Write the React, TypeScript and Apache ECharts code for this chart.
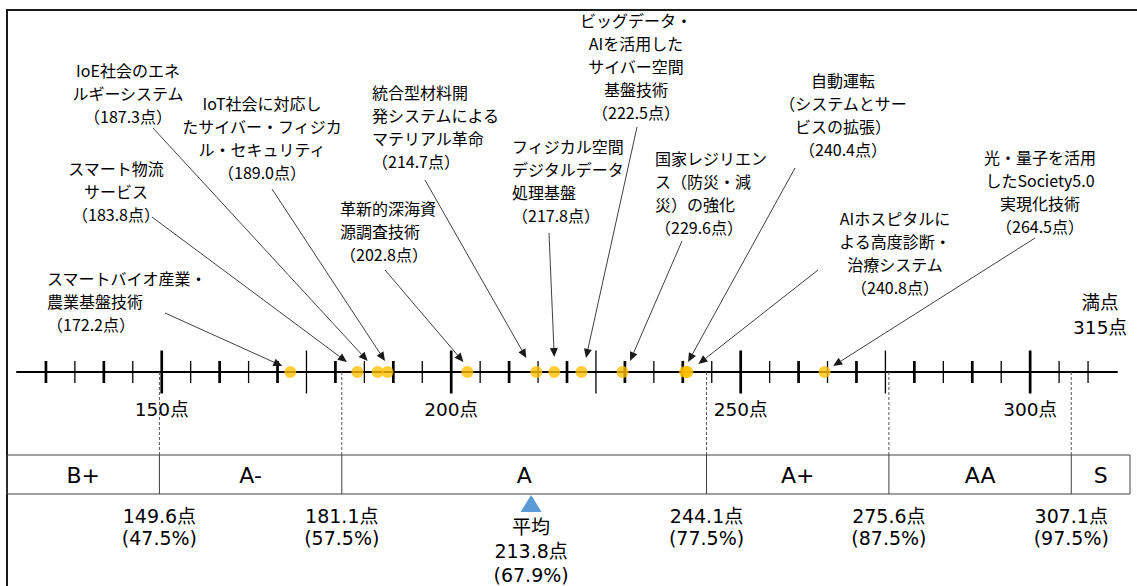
import React, { useEffect, useRef } from "react";
import * as echarts from "echarts";

// ---- data ----
const techNames = [
  "スマートバイオ産業・\n農業基盤技術",
  "スマート物流\nサービス",
  "IoE社会のエネ\nルギーシステム",
  "IoT社会に対応し\nたサイバー・フィジカ\nル・セキュリティ",
  "革新的深海資\n源調査技術",
  "統合型材料開\n発システムによる\nマテリアル革命",
  "フィジカル空間\nデジタルデータ\n処理基盤",
  "ビッグデータ・\nAIを活用した\nサイバー空間\n基盤技術",
  "国家レジリエン\nス（防災・減\n災）の強化",
  "自動運転\n（システムとサー\nビスの拡張）",
  "AIホスピタルに\nよる高度診断・\n治療システム",
  "光・量子を活用\nしたSociety5.0\n実現化技術",
];
const techScores = [172.2, 183.8, 187.3, 189.0, 202.8, 214.7, 217.8, 222.5, 229.6, 240.4, 240.8, 264.5];

const gradeNames = ["B+", "A-", "A", "A+", "AA", "S"];
const gradeBounds = [149.6, 181.1, 244.1, 275.6, 307.1];
const gradePercents = ["47.5%", "57.5%", "77.5%", "87.5%", "97.5%"];
const meanScore = 213.8;
const meanPercent = "67.9%";
const fullScore = 315;
const axisMin = 125;
const axisLabelValues = [150, 200, 250, 300];

const thinTicks = [135, 145, 155, 165, 185, 195, 205, 215, 235, 245, 255, 265, 285, 295, 305, 310];
const thickTicks = [130, 140, 160, 170, 180, 190, 210, 220, 230, 240, 260, 270, 280, 290];
const longThinTicks = [175, 225, 275];
const longThickTicks = [150, 200, 250, 300];

// ---- layout (pixels) ----
const FONT = "'DejaVu Sans', 'Noto Sans CJK JP', sans-serif";
const FONT_JP = "'Noto Sans CJK JP', 'DejaVu Sans', sans-serif";
const AXIS_Y = 372;
const FRAME_LEFT = 7;
const TABLE_TOP = 455;
const TABLE_BOTTOM = 494;
const TABLE_RIGHT = 1130;
const LABEL_LH = 23;

const labelLayout = [
  { x: 47, y: 278, align: "left", from: [165, 313], tip: [-8, -6] },
  { x: 116, y: 168, align: "center", from: [152, 217], tip: [-10.5, -10] },
  { x: 128, y: 70, align: "center", from: [153, 128], tip: [-10, -11] },
  { x: 262, y: 103, align: "center", from: [272, 189], tip: [-2.5, -11] },
  { x: 340, y: 208, align: "left", from: [385, 270], tip: [-4, -10] },
  { x: 372, y: 92, align: "left", from: [425, 180], tip: [-10, -14] },
  { x: 512, y: 146, align: "left", from: [549, 233], tip: [0, -15] },
  { x: 636, y: 20, align: "center", from: [637, 127], tip: [4.5, -14] },
  { x: 655, y: 158, align: "left", from: [682, 241], tip: [7.5, -11] },
  { x: 843, y: 80, align: "center", from: [795, 168], tip: [3, -10] },
  { x: 895, y: 218, align: "center", from: [818, 270], tip: [11, -8] },
  { x: 1040, y: 157, align: "center", from: [1035, 238], tip: [8.5, -6] },
];

const tickStyles = [
  { half: 11, w: 1.3 },
  { half: 11, w: 2.7 },
  { half: 21.5, w: 1.3 },
  { half: 21.5, w: 2.7 },
];

function textEl(x: number, y: number, text: string, size: number, lh: number, align: string, family = FONT) {
  return {
    type: "text",
    x,
    y,
    z: 10,
    style: {
      text,
      fill: "#000",
      fontSize: size,
      fontFamily: family,
      lineHeight: lh,
      align,
      textAlign: align,
      verticalAlign: "top",
      textVerticalAlign: "top",
    },
  };
}

export default function App() {
  const ref = useRef<HTMLDivElement>(null);

  useEffect(() => {
    const chart = echarts.init(ref.current!, null, { renderer: "svg" });

    const tickData = [
      ...thinTicks.map((v) => [v, 0]),
      ...thickTicks.map((v) => [v, 1]),
      ...longThinTicks.map((v) => [v, 2]),
      ...longThickTicks.map((v) => [v, 3]),
    ];

    chart.setOption({
      animation: false,
      backgroundColor: "#fff",
      grid: { left: 17, right: 20, top: 300, bottom: 586 - AXIS_Y },
      xAxis: {
        type: "value",
        min: axisMin,
        max: fullScore,
        interval: 25,
        axisLine: { show: true, lineStyle: { color: "#000", width: 2 } },
        axisTick: { show: false },
        splitLine: { show: false },
        axisLabel: {
          show: true,
          margin: 28,
          fontSize: 18.5,
          fontFamily: FONT,
          color: "#000",
          showMinLabel: true,
          showMaxLabel: true,
          formatter: (v: number) => (axisLabelValues.includes(v) ? `${v}点` : ""),
        },
      },
      yAxis: { type: "value", min: 0, max: 1, show: false },
      series: [
        {
          type: "custom",
          clip: false,
          z: 3,
          data: tickData,
          renderItem: (params: any, api: any) => {
            const p = api.coord([api.value(0), 0]);
            const s = tickStyles[api.value(1)];
            return {
              type: "line",
              shape: { x1: p[0], y1: p[1] - s.half, x2: p[0], y2: p[1] + s.half },
              style: { stroke: "#000", lineWidth: s.w },
            };
          },
        },
        {
          type: "scatter",
          clip: false,
          z: 4,
          symbolSize: 12,
          itemStyle: { color: "#FFC000", opacity: 0.78 },
          data: techScores.map((v) => [v, 0]),
        },
      ],
    });

    const px = (v: number) => chart.convertToPixel({ gridIndex: 0 }, [v, 0]) as number[];

    const g: any[] = [];
    // outer frame
    g.push({
      type: "rect",
      shape: { x: FRAME_LEFT, y: 10, width: 1200, height: 700 },
      style: { fill: "none", stroke: "#1a1a1a", lineWidth: 2 },
      z: 1,
    });
    // table
    g.push({
      type: "rect",
      shape: { x: FRAME_LEFT, y: TABLE_TOP, width: TABLE_RIGHT - FRAME_LEFT, height: TABLE_BOTTOM - TABLE_TOP },
      style: { fill: "none", stroke: "#404040", lineWidth: 1 },
      z: 2,
    });
    const cellEdges = [FRAME_LEFT, ...gradeBounds.map((b) => px(b)[0]), TABLE_RIGHT];
    gradeBounds.forEach((b, i) => {
      const x = px(b)[0];
      g.push({
        type: "line",
        shape: { x1: x, y1: TABLE_TOP, x2: x, y2: TABLE_BOTTOM },
        style: { stroke: "#404040", lineWidth: 1 },
        z: 2,
      });
      g.push({
        type: "line",
        shape: { x1: x, y1: AXIS_Y, x2: x, y2: TABLE_TOP },
        style: { stroke: "#555", lineWidth: 1, lineDash: [3, 2] },
        z: 2,
      });
      g.push(textEl(x, 505, `${b}点\n(${gradePercents[i]})`, 19, 22, "center"));
    });
    gradeNames.forEach((name, i) => {
      const cx = (cellEdges[i] + cellEdges[i + 1]) / 2;
      g.push(textEl(cx, 462, name, 22, 26, "center"));
    });

    // mean
    const mx = px(meanScore)[0];
    g.push({
      type: "polygon",
      shape: { points: [[mx - 10.5, 512], [mx + 10.5, 512], [mx, 495]] },
      style: { fill: "#5B9BD5" },
      z: 5,
    });
    g.push(textEl(mx, 515, `平均\n${meanScore}点\n(${meanPercent})`, 19, 24, "center"));

    // full score
    const fx = px(fullScore)[0];
    g.push(textEl(fx - 17, 290, `満点\n${fullScore}点`, 18.5, 25, "center"));

    // annotations
    techScores.forEach((v, i) => {
      const L = labelLayout[i];
      g.push(textEl(L.x, L.y - LABEL_LH / 2, `${techNames[i]}\n（${v.toFixed(1)}点）`, 16, LABEL_LH, L.align, FONT_JP));
      const d = px(v);
      const tx = d[0] + L.tip[0];
      const ty = d[1] + L.tip[1];
      const sx = L.from[0];
      const sy = L.from[1];
      const len = Math.hypot(tx - sx, ty - sy);
      const ux = (tx - sx) / len;
      const uy = (ty - sy) / len;
      const bx = tx - ux * 9;
      const by = ty - uy * 9;
      g.push({
        type: "line",
        shape: { x1: sx, y1: sy, x2: bx, y2: by },
        style: { stroke: "#404040", lineWidth: 1 },
        z: 6,
      });
      g.push({
        type: "polygon",
        shape: { points: [[tx, ty], [bx - uy * 4, by + ux * 4], [bx + uy * 4, by - ux * 4]] },
        style: { fill: "#1a1a1a" },
        z: 6,
      });
    });

    chart.setOption({ graphic: { elements: g } });

    return () => chart.dispose();
  }, []);

  return (
    <div
      ref={ref}
      style={{ position: "fixed", left: 0, top: 0, width: 1137, height: 586, background: "#fff" }}
    />
  );
}
